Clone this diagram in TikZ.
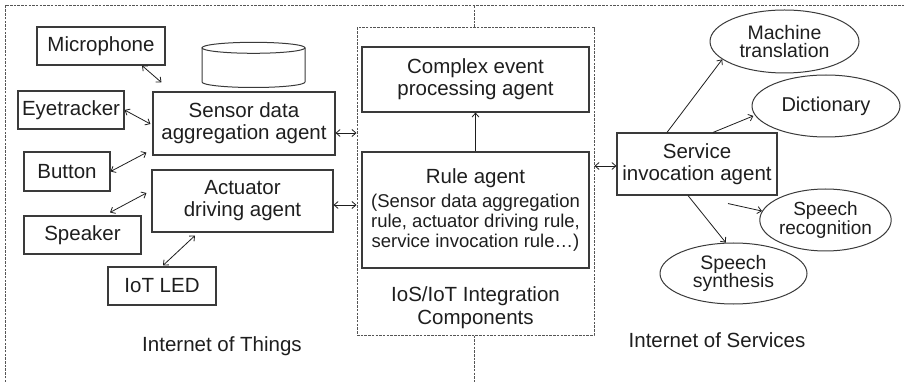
\documentclass[tikz,border=0pt]{standalone}
\usepackage{fontspec}
\setmainfont{Liberation Sans}
\usetikzlibrary{arrows.meta,shapes.geometric,calc}

\definecolor{edge}{HTML}{3A3A3A}
\definecolor{dashgray}{HTML}{555555}
\definecolor{ink}{HTML}{1E1E1E}

\tikzset{
  box/.style={draw=edge, line width=1.1pt, inner sep=0pt, align=center,
    text=ink, font=\fontsize{20.5}{22}\selectfont},
  oval/.style={ellipse, draw=edge, line width=1pt, inner sep=0pt, align=center,
    text=ink, font=\fontsize{19.5}{18.5}\selectfont},
  label/.style={inner sep=0pt, align=center, text=ink,
    font=\fontsize{20.5}{23}\selectfont},
  fine/.style={inner sep=0pt, align=center, text=ink,
    font=\fontsize{18.5}{20}\selectfont},
  link/.style={draw=ink, line width=0.8pt},
  both/.style={link, {Straight Barb[length=4pt,width=7pt]}-{Straight Barb[length=4pt,width=7pt]}},
  one/.style={link, -{Straight Barb[length=4pt,width=7pt]}},
  region/.style={draw=dashgray, line width=1pt, dash pattern=on 2.5pt off 1.2pt},
}

\begin{document}
\begin{tikzpicture}[x=1pt,y=-1pt]
\useasboundingbox (0,0) rectangle (905,382);

% outer frame and column divider
\draw[region] (5,382) -- (5,6) -- (905,6);

% integration components
\node[region, minimum width=237pt, minimum height=307pt, inner sep=0pt] (ios) at (475.5,181.5) {};
\coordinate (divtop) at (474,6);
\coordinate (divbot) at (474,382);
\draw[region] (divtop) -- (divtop |- ios.north);
\draw[region] (divbot |- ios.south) -- (divbot);

% Internet of Things
\node[box, minimum width=128pt, minimum height=38pt] (mic) at (101,46) {Microphone};
\node[box, minimum width=106pt, minimum height=38pt] (eye) at (71,110) {Eyetracker};
\node[box, minimum width=86pt, minimum height=39pt] (button) at (67,171.5) {Button};
\node[box, minimum width=117pt, minimum height=38pt] (speaker) at (82.5,235) {Speaker};
\node[box, minimum width=108pt, minimum height=38pt] (led) at (162,286) {IoT LED};
\node[box, minimum width=182pt, minimum height=63pt] (sensor) at (244,123.5) {Sensor data\\aggregation agent};
\node[box, minimum width=181pt, minimum height=62pt] (actuator) at (242.5,201) {Actuator\\driving agent};

% data store
\draw[draw=edge, line width=1pt]
  (202,47.8) -- (202,82) arc[start angle=180, end angle=360, x radius=51.5pt, y radius=5.5pt]
  -- (305,47.8);
\draw[draw=edge, line width=1pt] (253.5,47.8) ellipse[x radius=51.5pt, y radius=5.5pt];

\node[label, anchor=base] (iot) at (222,351) {Internet of Things};

% integration agents
\node[box, minimum width=227pt, minimum height=65pt] (complex) at (475.5,79.5) {Complex event\\processing agent};
\node[box, minimum width=227pt, minimum height=116pt] (rule) at (475.5,210) {};
\node[label, anchor=base] (ruletitle) at (475.5,184) {Rule agent};
\node[fine] (ruletext) at (475.5,223) {(Sensor data aggregation\\rule, actuator driving rule,\\service invocation rule…)};
\node[label] (iostext) at (475.5,308) {IoS/IoT Integration\\Components};

% Internet of Services
\node[box, minimum width=160pt, minimum height=62pt] (service) at (697,164) {Service\\invocation agent};
\node[oval, minimum width=149pt, minimum height=63pt] (mt) at (784.5,41.5) {Machine\\translation};
\node[oval, minimum width=148pt, minimum height=62pt, font=\fontsize{20}{20}\selectfont] (dict) at (826,106) {Dictionary};
\node[oval, minimum width=123pt, minimum height=62pt, font=\fontsize{19}{19}\selectfont] (sr) at (825.5,220) {Speech\\recognition};
\node[oval, minimum width=147pt, minimum height=61pt] (ss) at (733.5,273.5) {Speech\\synthesis};
\node[label, anchor=base] (ios-label) at (717,347) {Internet of Services};

% device links
\draw[both] ([xshift=41pt]mic.south) -- ([xshift=9pt,yshift=9pt]sensor.north west);
\draw[both] (eye.east) -- ([xshift=-2pt,yshift=-0.5pt]sensor.west);
\draw[both] (button.east) -- ([xshift=-6pt,yshift=3pt]sensor.south west);
\draw[both] ([xshift=27.5pt,yshift=3pt]speaker.north) -- ([xshift=-5pt,yshift=8pt]actuator.west);
\draw[both] ([xshift=1pt,yshift=1pt]led.north) -- ([xshift=-47.5pt,yshift=-3pt]actuator.south);

% links to the integration components
\draw[both] ([yshift=-9.5pt]sensor.east) -- ([yshift=-9.5pt]sensor.east -| ios.west);
\draw[both] ([yshift=-4pt]actuator.east) -- ([yshift=-4pt]actuator.east -| ios.west);
\draw[one] (rule.north) -- (complex.south);
\draw[both] ([yshift=-2pt]service.west -| ios.east) -- ([yshift=-2pt]service.west);

% service calls
\draw[one] ([xshift=-30pt]service.north) -- (mt.196);
\draw[one] ([xshift=16pt]service.north) -- ([xshift=-2pt]dict.188);
\draw[one] ([xshift=31pt,yshift=-8pt]service.south) -- (sr.172);
\draw[one] ([xshift=-9pt]service.south) -- (ss.104);
\end{tikzpicture}
\end{document}
